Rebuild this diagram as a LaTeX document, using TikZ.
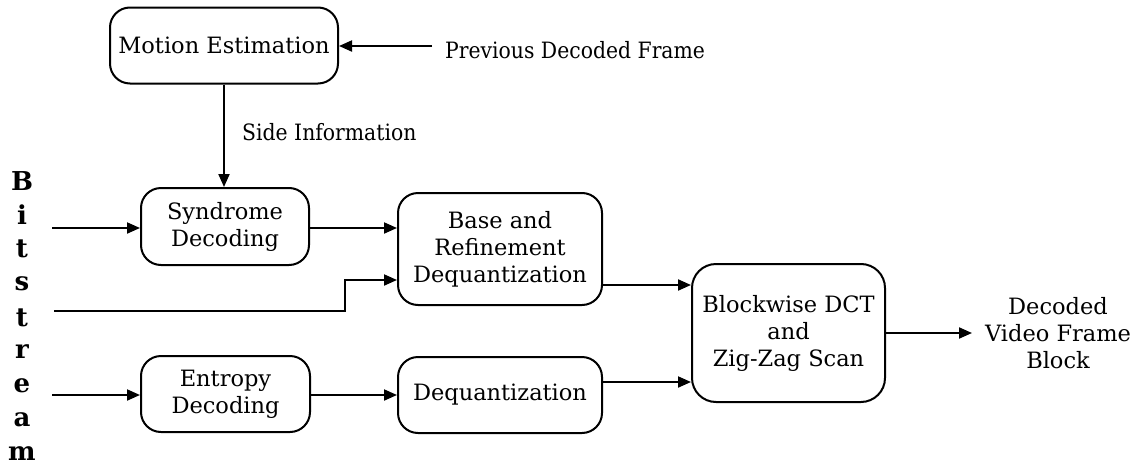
\documentclass[tikz,border=0pt]{standalone}
\usepackage{fontspec}
\setmainfont{DejaVu Serif}
\usetikzlibrary{arrows.meta}
\begin{document}
\begin{tikzpicture}[x=1pt,y=-1pt,
  blk/.style={draw,line width=2pt,rounded corners=20pt,align=center,
    inner sep=0pt,font=\fontsize{22.5}{27}\selectfont},
  lbl/.style={inner sep=0pt,align=center,font=\fontsize{22.5}{27}\selectfont},
  bit/.style={inner sep=0pt,font=\fontsize{26}{26}\selectfont\bfseries},
  arr/.style={line width=2pt,-{Triangle[length=13pt,width=11pt]}},
  ln/.style={line width=2pt}]
\useasboundingbox (0,0) rectangle (1138,466);
% boxes
\node[blk,minimum width=228pt,minimum height=76pt] (me) at (224,45.5) {Motion Estimation};
\node[blk,minimum width=168pt,minimum height=77pt] (syn) at (225,226.5) {Syndrome\\Decoding};
\node[blk,minimum width=169pt,minimum height=76pt] (ent) at (225.5,394) {Entropy\\Decoding};
\node[blk,minimum width=204pt,minimum height=112pt] (base) at (500,249) {Base and\\Refinement\\Dequantization};
\node[blk,minimum width=204pt,minimum height=76pt] (deq) at (500,395) {Dequantization};
\node[blk,minimum width=193pt,minimum height=138pt,rounded corners=24pt] (dct) at (788.5,333) {Blockwise DCT\\and\\Zig-Zag Scan};
% labels
\node[lbl,anchor=west] (pdf) at (445,50) {\scalebox{0.905}[1]{Previous Decoded Frame}};
\node[lbl,anchor=west] (side) at (242,132) {\scalebox{0.905}[1]{Side Information}};
\node[lbl] (out) at (1058,333) {Decoded\\Video Frame\\Block};
\foreach \c [count=\i from 0] in {B,i,t,s,t,r,e,a,m}{
  \node[bit] (b\i) at (22,{181+\i*34.1}) {\c};
}
% free ends
\coordinate (pin) at (432,46);
\coordinate (in1) at (52,228);
\coordinate (in2) at (54,311);
\coordinate (k2) at (345,311);
\coordinate (in3) at (52,395);
\coordinate (oend) at (972,333);
% connectors
\draw[arr] (pin) -- (pin -| me.east);
\draw[arr] (me.south) -- (me.south |- syn.north);
\draw[arr] (in1) -- (in1 -| syn.west);
\draw[arr] (syn.east |- 0,228) -- (base.west |- 0,228);
\draw[arr] (in2) -- (k2) -- (345,280) -- (base.west |- 0,280);
\draw[arr] (in3) -- (in3 -| ent.west);
\draw[arr] (ent.east |- 0,395) -- (deq.west |- 0,395);
\draw[arr] (base.east |- 0,285) -- (dct.west |- 0,285);
\draw[arr] (deq.east |- 0,382) -- (dct.west |- 0,382);
\draw[arr] (dct.east) -- (oend);
\end{tikzpicture}
\end{document}
